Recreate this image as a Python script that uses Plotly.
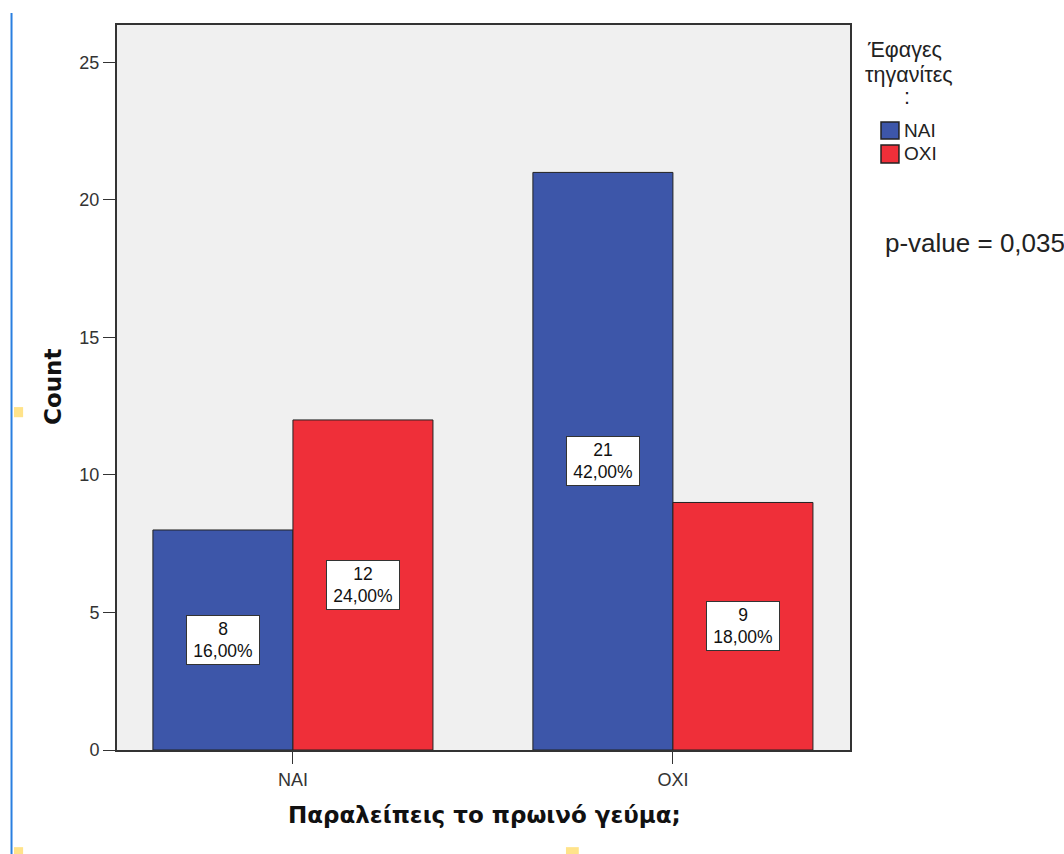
import plotly.graph_objects as go

# Crosstab: skipping breakfast vs. having eaten pancakes
categories = ["NAI", "OXI"]
series_names = ["NAI", "OXI"]
counts_nai = [8, 21]
counts_oxi = [12, 9]
pct_nai = ["16,00%", "42,00%"]
pct_oxi = ["24,00%", "18,00%"]
y_ticks = [0, 5, 10, 15, 20, 25]
legend_title = ["Έφαγες", "τηγανίτες", ":"]
p_value_text = "p-value = 0,035"

colors = {"NAI": "#3D56A9", "OXI": "#EF2F39"}
xpos = list(range(len(categories)))
SANS = "Liberation Sans, Arial"
BOLD = "DejaVu Sans"

fig = go.Figure()
for name, vals in zip(series_names, [counts_nai, counts_oxi]):
    fig.add_trace(go.Bar(
        x=xpos, y=vals, name=name,
        marker=dict(color=colors[name], line=dict(color="#222222", width=1)),
        offsetgroup=name, showlegend=False,
    ))

# value/percentage boxes at mid-height of each bar
bargap = 0.263
half = (1 - bargap) / 4
for vals, pcts, shift in [(counts_nai, pct_nai, -half), (counts_oxi, pct_oxi, half)]:
    for i, (v, p) in enumerate(zip(vals, pcts)):
        fig.add_annotation(
            x=xpos[i] + shift, y=v / 2, xref="x", yref="y",
            text=f"{v}<br>{p}", showarrow=False,
            font=dict(family=SANS, size=17.5, color="#111111"),
            bgcolor="white", bordercolor="#333333", borderwidth=1,
            width=68, height=44, borderpad=2, align="center",
        )

# axis titles
fig.add_annotation(
    x=0.5007, y=-0.0897, xref="paper", yref="paper", xanchor="center", yanchor="middle",
    text="<b>Παραλείπεις το πρωινό γεύμα;</b>", showarrow=False,
    font=dict(family=BOLD, size=23, color="#111111"),
)
fig.add_annotation(
    x=-0.0873, y=0.5007, xref="paper", yref="paper", xanchor="center", yanchor="middle",
    text="<b>Count</b>", showarrow=False, textangle=-90,
    font=dict(family=BOLD, size=23, color="#111111"),
)

# legend: title lines, swatches and labels
for line, lx, ly in zip(legend_title, [1.0750, 1.0805, 1.0778], [0.9655, 0.9310, 0.9007]):
    fig.add_annotation(
        x=lx, y=ly, xref="paper", yref="paper", xanchor="center", yanchor="middle",
        text=line, showarrow=False, font=dict(family=SANS, size=21.5, color="#222222"),
    )
shapes = []
for name, (y0, y1), ty in zip(series_names, [(0.8662, 0.8428), (0.8345, 0.8097)], [0.8538, 0.8221]):
    shapes.append(dict(type="rect", xref="paper", yref="paper", x0=1.0423, x1=1.0668, y0=y0, y1=y1,
                       fillcolor=colors[name], line=dict(color="#222222", width=1.5)))
    fig.add_annotation(
        x=1.0709, y=ty, xref="paper", yref="paper", xanchor="left", yanchor="middle",
        text=name, showarrow=False, font=dict(family=SANS, size=19, color="#222222"),
    )

fig.add_annotation(
    x=1.0450, y=0.6993, xref="paper", yref="paper", xanchor="left", yanchor="middle",
    text=p_value_text, showarrow=False,
    font=dict(family=SANS, size=26, color="#222222"),
)

# viewer artefacts along the page edges
shapes.append(dict(type="line", xref="paper", yref="paper", x0=-0.1439, x1=-0.1439, y0=-0.1434, y1=1.0166,
                   line=dict(color="#2A7FE0", width=2)))
for x0, x1, y0, y1 in [(-0.1405, -0.1281, 0.473, 0.459), (-0.1405, -0.1281, -0.134, -0.145),
                       (0.6125, 0.630, -0.134, -0.145)]:
    shapes.append(dict(type="rect", xref="paper", yref="paper", x0=x0, x1=x1, y0=y0, y1=y1,
                       fillcolor="#FFE38A", line=dict(width=0)))
fig.update_layout(shapes=shapes)

fig.update_layout(
    width=1064, height=854,
    margin=dict(l=117, r=214, t=25, b=104),
    paper_bgcolor="white", plot_bgcolor="#F0F0F0",
    barmode="group", bargap=bargap, bargroupgap=0,
    font=dict(family=SANS, color="#333333"),
    showlegend=False,
    xaxis=dict(
        range=[-0.463, 1.466], tickmode="array", tickvals=xpos, ticktext=categories,
        ticks="outside", ticklen=12, tickcolor="#333333", tickfont=dict(size=18, color="#333333"),
        showline=True, linecolor="#333333", linewidth=2, mirror=True, showgrid=False, zeroline=False,
    ),
    yaxis=dict(
        range=[0, 26.36], tickmode="array", tickvals=y_ticks,
        ticks="outside", ticklen=12, tickcolor="#333333", tickfont=dict(size=18, color="#333333"),
        showline=True, linecolor="#333333", linewidth=2, mirror=True, showgrid=False, zeroline=False,
    ),
)

fig.write_html("out.html")
